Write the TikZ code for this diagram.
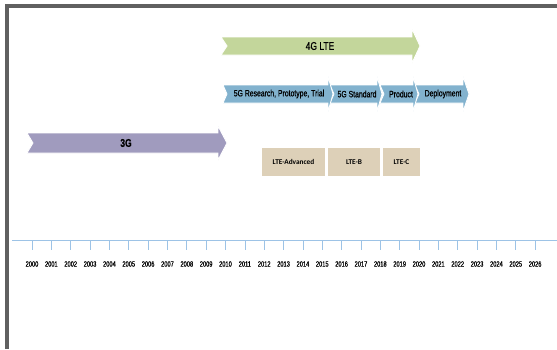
\documentclass[tikz,border=0pt]{standalone}
\usepackage{fontspec}
\newfontfamily\narrowfont[FakeStretch=0.75, FakeBold=0.8]{Liberation Sans}
\newfontfamily\boxfont{Carlito}
\definecolor{lteGreen}{RGB}{195,214,155}
\definecolor{fiveBlue}{RGB}{130,178,206}
\definecolor{threePurple}{RGB}{160,155,190}
\definecolor{boxTan}{RGB}{221,208,184}
\definecolor{axisBlue}{RGB}{157,195,230}
\definecolor{frameGray}{RGB}{96,96,96}
\def\px{0.025cm}
% tail, notch, back, tip, centre y, body half, head half, colour
\newcommand{\chevron}[8]{%
  \filldraw[fill=#8, draw=white, line width=0.6pt] ({#1},{#5-#6}) -- ({#3},{#5-#6}) -- ({#3},{#5-#7}) -- ({#4},{#5})
    -- ({#3},{#5+#7}) -- ({#3},{#5+#6}) -- ({#1},{#5+#6}) -- ({#1+#2},{#5}) -- cycle;}
\tikzset{
  arrowtext/.style={font=\narrowfont\fontsize{6.5}{7}\selectfont, inner sep=0pt},
  bigtext/.style={font=\narrowfont\fontsize{8}{9}\selectfont, inner sep=0pt},
  tanbox/.style={fill=boxTan, minimum height=28*\px, inner sep=0pt, font=\boxfont\bfseries\fontsize{5.2}{6}\selectfont},
  yeartext/.style={font=\narrowfont\fontsize{5.4}{6}\selectfont, inner sep=0pt}
}
\begin{document}
\begin{tikzpicture}[x=\px, y=-\px]
\useasboundingbox (0,0) rectangle (557,349);
\fill[white] (0,0) rectangle (557,349);
% frame
\draw[frameGray, line width=2.4pt] (7,349) -- (7,6) -- (557,6);
% 4G
\chevron{221}{6}{412}{420}{46}{9}{17}{lteGreen}
\node[bigtext] (lte) at (320,46) {4G LTE};
% 5G row, drawn from right to left
\chevron{415}{4}{463}{469}{94}{9}{17.5}{fiveBlue}
\chevron{380}{4}{413}{418}{94}{9}{17.5}{fiveBlue}
\chevron{330}{4}{377}{382}{94}{9}{17.5}{fiveBlue}
\chevron{223}{4}{328}{333}{94}{9}{17.5}{fiveBlue}
\node[arrowtext] (research) at (279,94) {5G Research, Prototype, Trial};
\node[arrowtext] (standard) at (357,94) {5G Standard};
\node[arrowtext] (product) at (401,94) {Product};
\node[arrowtext] (deploy) at (443,94) {Deployment};
% 3G
\chevron{27}{6}{218}{227}{143}{10}{17}{threePurple}
\node[bigtext, font=\narrowfont\bfseries\fontsize{8}{9}\selectfont] (three) at (126,143) {3G};
% LTE boxes
\node[tanbox, minimum width=63*\px] (advanced) at (293.5,162) {LTE-Advanced};
\node[tanbox, minimum width=52*\px] (lteb) at (354,162) {LTE-B};
\node[tanbox, minimum width=37*\px] (ltec) at (401.5,162) {LTE-C};
% time axis
\draw[axisBlue, line width=0.7pt] (12,240) -- (557,240);
\foreach \Year in {2000,...,2026}{
    \draw[axisBlue, line width=0.5pt] ({32+(\Year-2000)*19.35},240) -- ({32+(\Year-2000)*19.35},250);
    \node[yeartext] (y\Year) at ({32+(\Year-2000)*19.35},264) {\Year};}
\end{tikzpicture}
\end{document}
